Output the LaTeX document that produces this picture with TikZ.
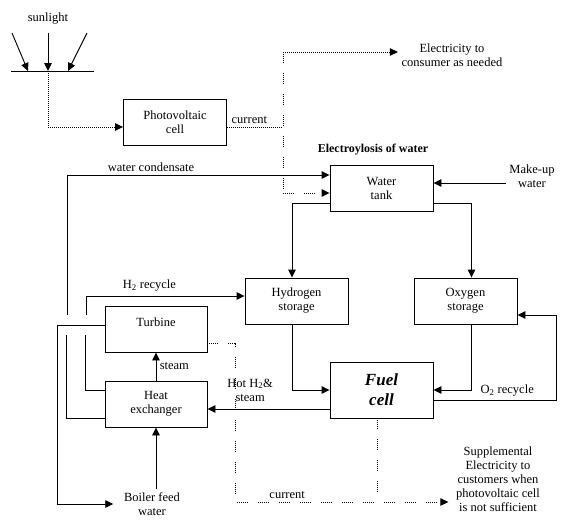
\documentclass[tikz,border=0pt]{standalone}
\usepackage{fontspec}
\setmainfont{Liberation Serif}
\usetikzlibrary{arrows.meta,calc}

\begin{document}
\begin{tikzpicture}[x=1pt,y=-1pt,
        font=\fontsize{12.5}{14}\selectfont,
        line width=0.9pt,
        unit/.style={draw,minimum width=103pt,minimum height=46pt,align=center,inner sep=2pt},
        arr/.style={-{Triangle[length=8pt,width=7.5pt]}},
        wire/.style={dash pattern=on 1pt off 1pt},
        wiregap/.style={dash pattern=on 1pt off 1pt on 1pt off 1pt on 1pt off 1pt on 1pt off 1pt on 1pt off 1pt on 1pt off 10pt}]
        \useasboundingbox (0,0) rectangle (575,527);

        % Sunlight on the panel
        \node (sun) at (48,19) {sunlight};
        \coordinate (sunL) at (12,33);
        \coordinate (sunM) at (48,33);
        \coordinate (sunR) at (87,33);
        \coordinate (panelL) at (11,71);
        \coordinate (panelR) at (94,71);
        \coordinate (hitL) at (28,71);
        \coordinate (panelM) at (48,71);
        \coordinate (hitR) at (68,71);
        \draw (panelL) -- (panelR);
        \draw[arr] (sunL) -- (hitL);
        \draw[arr] (sunM) -- (panelM);
        \draw[arr] (sunR) -- (hitR);

        % Units
        \node[unit] (pv) at (175,122) {Photovoltaic\\cell};
        \node[unit] (tank) at (381.5,188.5) {Water\\tank};
        \node[unit] (h2) at (296.5,301) {Hydrogen\\storage};
        \node[unit] (o2) at (465.5,301) {Oxygen\\storage};
        \node[unit,minimum height=56pt,font=\fontsize{17}{20}\selectfont\bfseries\itshape] (fuel) at (381.5,390) {Fuel\\cell};
        \node[unit,minimum width=102pt] (turbine) at (156,329) {Turbine\\\mbox{}};
        \node[unit,minimum width=102pt] (hx) at (156,404) {Heat\\exchanger};

        % Free texts
        \node[font=\fontsize{12}{14}\selectfont\bfseries] (electro) at (373,150) {Electroylosis of water};
        \node[align=center] (consumer) at (452,55) {Electricity to\\consumer as needed};
        \node[align=center] (makeup) at (532,176) {Make-up\\water};
        \node[align=center] (boiler) at (152,504) {Boiler feed\\water};
        \node[align=center] (supp) at (498,479) {Supplemental\\Electricity to\\customers when\\photovoltaic cell\\is not sufficient};

        % Electrical lines (dotted)
        \coordinate (busTop) at (283,52);
        \coordinate (busBot) at (283,193);
        \coordinate (gridL) at (235,502);
        \coordinate (fuelOut) at ([xshift=-4.5pt]fuel.south);
        \draw[wire,arr] (panelM) |- ([yshift=-5pt]pv.west);
        \draw[wire] ([yshift=-5pt]pv.east) -- node[above,pos=0.4] {current} ++(56,0);
        \draw[wiregap] (busTop) -- (busBot);
        \draw[wire,arr] (busTop) -- (busTop -| consumer.west);
        \draw[wiregap,arr] (busBot) -- (busBot -| tank.west);
        \draw[wiregap,arr,shorten >=4pt] ([yshift=-14pt]turbine.east) -| (gridL) -- node[above,pos=0.24] {current} (gridL -| supp.west);
        \draw[wiregap] (fuelOut) -- (fuelOut |- gridL);

        % Water, gas and steam lines
        \coordinate (mk) at ([yshift=5.5pt]tank.east);
        \draw[arr] (mk -| makeup.west) -- (mk);
        \draw[arr] ([yshift=-14.5pt]tank.west) -| ([xshift=-4.5pt]h2.north);
        \draw[arr] ([yshift=-14.5pt]tank.east) -| ([xshift=6pt]o2.north);
        \draw[arr] ([xshift=-4.5pt]h2.south) |- (fuel.west);
        \draw[arr] ([xshift=6pt]o2.south) |- (fuel.east);
        \draw[arr] ([yshift=-10pt]fuel.east) -- node[above,pos=0.6] {O\textsubscript{2} recycle} ++(123,0) |- ([yshift=-14pt]o2.east);
        \coordinate (hot) at ([yshift=-19pt]fuel.west);
        \draw[arr] (hot) -- node[above=4pt,pos=0.65,align=center] {Hot H\textsubscript{2}\&\\steam} (hot -| hx.east);
        \draw[arr] (hx.north) -- node[right] {steam} (turbine.south);
        \draw[arr] (boiler.north -| hx.south) -- (hx.south);

        % Return lines on the left (broken where they cross)
        \coordinate (hopA) at (67,315);
        \coordinate (hopB) at (86,315);
        \draw[arr,shorten >=7pt] ([yshift=4pt]turbine.west) -- ++(-47,0) |- (boiler.west);
        \draw ([yshift=-14pt]hx.west) -- ++(-38,0) -- ++(0,-83);
        \draw[arr] (hopA) |- node[pos=0.66,above] {water condensate} ([yshift=13.5pt]tank.west);
        \draw ([yshift=14pt]hx.west) -- ++(-19,0) -- ++(0,-55);
        \draw[arr] (hopB) |- node[pos=0.7,above=1pt] {H\textsubscript{2} recycle} ([yshift=5pt]h2.west);
    \end{tikzpicture}
\end{document}
